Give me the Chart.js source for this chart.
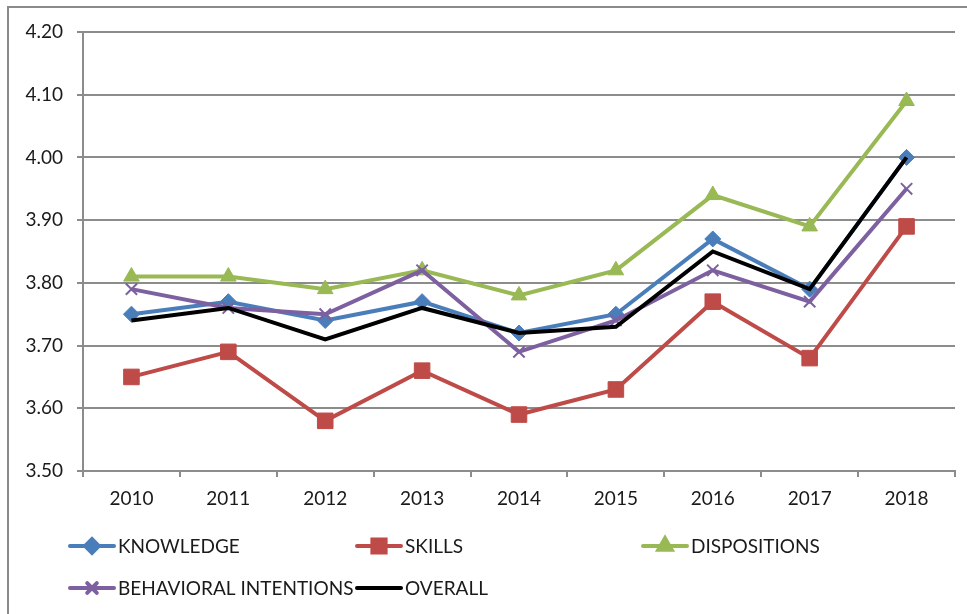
<!DOCTYPE html>
<html>
<head>
<meta charset="utf-8">
<script src="https://cdn.jsdelivr.net/npm/chart.js@4/dist/chart.umd.min.js"></script>
<style>
  html, body { margin: 0; padding: 0; background: #fff; }
  #wrap { position: relative; width: 967px; height: 614px; overflow: hidden; }
  #frame { position: absolute; left: 7px; top: 6px; width: 1000px; height: 700px;
           border-left: 2px solid #8a8a8a; border-top: 2px solid #8a8a8a; }
  #trend { position: absolute; left: 0; top: 0; }
</style>
</head>
<body>
<div id="wrap">
  <div id="frame"></div>
  <canvas id="trend" width="967" height="614"></canvas>
</div>
<script>
const years = ['2010', '2011', '2012', '2013', '2014', '2015', '2016', '2017', '2018'];

const knowledge  = [3.75, 3.77, 3.74, 3.77, 3.72, 3.75, 3.87, 3.79, 4.00];
const skills     = [3.65, 3.69, 3.58, 3.66, 3.59, 3.63, 3.77, 3.68, 3.89];
const dispositions = [3.81, 3.81, 3.79, 3.82, 3.78, 3.82, 3.94, 3.89, 4.09];
const behavioral = [3.79, 3.76, 3.75, 3.82, 3.69, 3.74, 3.82, 3.77, 3.95];
const overall    = [3.74, 3.76, 3.71, 3.76, 3.72, 3.73, 3.85, 3.79, 4.00];

const FONT = 'Lato, "Open Sans", sans-serif';
const GRID = '#8c8c8c';

function series(label, data, color, style, radius, order, borderW) {
  return {
    label: label,
    data: data,
    borderColor: color,
    backgroundColor: color,
    borderWidth: 4,
    pointStyle: style,
    pointRadius: radius,
    pointBorderWidth: borderW,
    pointBackgroundColor: color,
    pointBorderColor: color,
    tension: 0,
    fill: false,
    order: order
  };
}

const datasets = [
  series('KNOWLEDGE', knowledge, '#4a7ebb', 'rectRot', 8, 5, 1),
  series('SKILLS', skills, '#be4b48', 'rect', 11, 4, 1),
  series('DISPOSITIONS', dispositions, '#98b954', 'triangle', 9, 3, 1),
  series('BEHAVIORAL INTENTIONS', behavioral, '#7d60a0', 'crossRot', 8, 2, 2),
  series('OVERALL', overall, '#000000', false, 0, 1, 0)
];

// legend laid out in fixed columns, two rows, under the axis
const gridLegend = {
  id: 'gridLegend',
  afterDraw(chart) {
    const ctx = chart.ctx;
    const cols = [70, 357, 643];
    const rows = [546, 588];
    ctx.save();
    chart.data.datasets.forEach((ds, i) => {
      const x = cols[i % 3];
      const y = rows[Math.floor(i / 3)];
      ctx.strokeStyle = ds.borderColor;
      ctx.lineWidth = 4;
      ctx.lineCap = 'round';
      ctx.beginPath();
      ctx.moveTo(x, y);
      ctx.lineTo(x + 44, y);
      ctx.stroke();
      if (ds.pointStyle) {
        ctx.fillStyle = ds.backgroundColor;
        Chart.helpers.drawPoint(ctx, {
          pointStyle: ds.pointStyle,
          radius: ds.pointRadius * 0.85,
          borderWidth: ds.pointBorderWidth,
          rotation: 0
        }, x + 22, y);
      }
      ctx.fillStyle = '#1a1a1a';
      ctx.font = '19px ' + FONT;
      ctx.textBaseline = 'middle';
      ctx.textAlign = 'left';
      ctx.fillText(ds.label, x + 48, y + 1);
    });
    ctx.restore();
  }
};

new Chart(document.getElementById('trend'), {
  type: 'line',
  data: { labels: years, datasets: datasets },
  plugins: [gridLegend],
  options: {
    responsive: false,
    animation: false,
    layout: { padding: { left: 0, right: 12, top: 32, bottom: 103 } },
    plugins: {
      legend: { display: false },
      tooltip: { enabled: false }
    },
    scales: {
      x: {
        offset: true,
        afterFit: s => { s.height = 40; },
        grid: { drawOnChartArea: false, color: GRID, lineWidth: 2, tickLength: 6, offset: true },
        border: { color: GRID, width: 2 },
        ticks: { color: '#1a1a1a', font: { family: FONT, size: 19 }, padding: 10, maxRotation: 0 }
      },
      y: {
        min: 3.5,
        max: 4.2,
        afterFit: s => { s.width = 83; },
        grid: { color: GRID, lineWidth: 2, tickLength: 6 },
        border: { color: GRID, width: 2 },
        ticks: {
          stepSize: 0.1,
          color: '#1a1a1a',
          font: { family: FONT, size: 19 },
          padding: 14,
          callback: v => Number(v).toFixed(2)
        }
      }
    }
  }
});
</script>
</body>
</html>
